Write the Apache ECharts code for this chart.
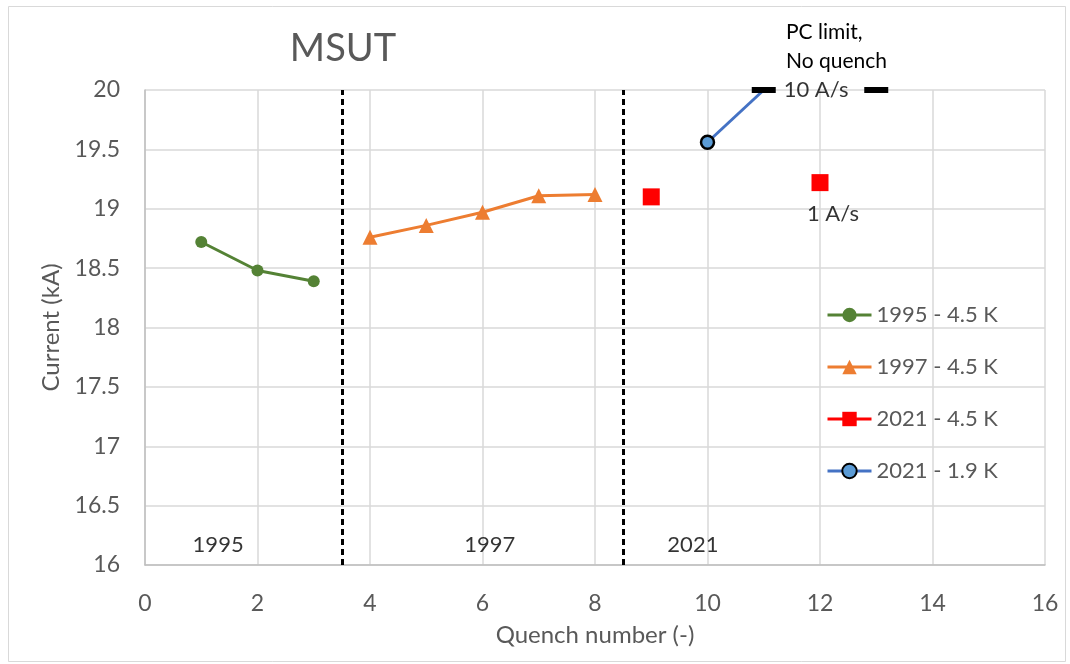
<!DOCTYPE html>
<html>
<head>
<meta charset="utf-8">
<title>MSUT</title>
<script src="https://cdn.jsdelivr.net/npm/echarts@6/dist/echarts.min.js"></script>
<style>
  html, body { margin: 0; padding: 0; background: #fff; }
  #chart { width: 1070px; height: 664px; }
</style>
</head>
<body>
<div id="chart"></div>
<script>
// quench data (x = quench number, y = current in kA)
const q1995X = [1, 2, 3]
const q1995Y = [18.72, 18.48, 18.39]
const q1997X = [4, 5, 6, 7, 8]
const q1997Y = [18.76, 18.86, 18.97, 19.11, 19.12]
const q2021hX = [9, 12]
const q2021hY = [19.1, 19.22]
const q2021lX = [10, 11]
const q2021lY = [19.56, 20]
// PC limit marks
const pcX = [11, 13]
const pcY = [20, 20]
// campaign separators
const sepX = [3.5, 8.5]
// text annotations placed in data coordinates
const noteX = [1.3, 6.13, 9.74, 12.23, 11.93]
const noteY = [16.17, 16.17, 16.17, 18.96, 20]
const noteText = ['1995', '1997', '2021', '1 A/s', '10 A/s']

const FONT = 'Lato'
const GREY = '#595959'

const zip = (xs, ys) => xs.map((x, i) => [x, ys[i]])

const chart = echarts.init(document.getElementById('chart'))

const option = {
  animation: false,
  backgroundColor: '#fff',
  textStyle: { fontFamily: FONT },
  title: {
    text: 'MSUT',
    left: 338,
    top: 25,
    textAlign: 'center',
    textStyle: { fontFamily: FONT, fontSize: 38, fontWeight: 'normal', color: GREY }
  },
  graphic: [
    {
      type: 'rect',
      left: 6,
      top: 4,
      shape: { width: 1057, height: 655 },
      style: { fill: 'none', stroke: '#d9d9d9', lineWidth: 1 },
      silent: true
    },
    {
      type: 'text',
      left: 786,
      top: 18,
      style: {
        text: 'PC limit,\nNo quench',
        font: '21px ' + FONT,
        fill: '#000',
        lineHeight: 29
      }
    }
  ],
  grid: { left: 145, right: 25, top: 90, bottom: 99 },
  legend: {
    orient: 'vertical',
    left: 821,
    top: 299,
    itemWidth: 44,
    itemHeight: 18,
    itemGap: 30,
    lineStyle: { width: 3 },
    textStyle: { fontFamily: FONT, fontSize: 22, lineHeight: 22, color: GREY },
    data: ['1995 - 4.5 K', '1997 - 4.5 K', '2021 - 4.5 K', '2021 - 1.9 K']
  },
  xAxis: {
    type: 'value',
    min: 0,
    max: 16,
    interval: 2,
    name: 'Quench number (-)',
    nameLocation: 'middle',
    nameGap: 58,
    nameTextStyle: { fontFamily: FONT, fontSize: 24, color: GREY },
    axisLine: { lineStyle: { color: '#bfbfbf', width: 1.5 } },
    axisTick: { show: false },
    axisLabel: { margin: 27, fontFamily: FONT, fontSize: 23, color: GREY },
    splitLine: { lineStyle: { color: '#d9d9d9', width: 1.5 } }
  },
  yAxis: {
    type: 'value',
    min: 16,
    max: 20,
    interval: 0.5,
    name: 'Current (kA)',
    nameLocation: 'middle',
    nameGap: 76,
    nameTextStyle: { fontFamily: FONT, fontSize: 24, color: GREY },
    axisLine: { show: true, lineStyle: { color: '#bfbfbf', width: 1.5 } },
    axisTick: { show: false },
    axisLabel: { margin: 25, fontFamily: FONT, fontSize: 23, color: GREY },
    splitLine: { lineStyle: { color: '#d9d9d9', width: 1.5 } }
  },
  series: [
    {
      name: '1995 - 4.5 K',
      type: 'line',
      data: zip(q1995X, q1995Y),
      symbol: 'circle',
      symbolSize: 12,
      itemStyle: { color: '#548235' },
      lineStyle: { color: '#548235', width: 3 }
    },
    {
      name: '1997 - 4.5 K',
      type: 'line',
      data: zip(q1997X, q1997Y),
      symbol: 'triangle',
      symbolSize: 15,
      itemStyle: { color: '#ED7D31' },
      lineStyle: { color: '#ED7D31', width: 3 }
    },
    {
      // '-' in the middle breaks the line so only the squares show
      name: '2021 - 4.5 K',
      type: 'line',
      data: [[q2021hX[0], q2021hY[0]], [10.5, '-'], [q2021hX[1], q2021hY[1]]],
      symbol: 'rect',
      symbolSize: 17,
      itemStyle: { color: '#FF0000' },
      lineStyle: { color: '#FF0000', width: 3 }
    },
    {
      name: '2021 - 1.9 K',
      type: 'line',
      clip: false,
      data: [
        { value: [q2021lX[0], q2021lY[0]] },
        { value: [q2021lX[1], q2021lY[1]], symbol: 'none' }
      ],
      symbol: 'circle',
      symbolSize: 13,
      itemStyle: { color: '#5B9BD5', borderColor: '#000', borderWidth: 2.5 },
      lineStyle: { color: '#4472C4', width: 3 }
    },
    {
      name: 'PC limit',
      type: 'scatter',
      clip: false,
      data: zip(pcX, pcY),
      symbol: 'rect',
      symbolSize: [24, 6],
      itemStyle: { color: '#000', opacity: 1 },
      z: 10
    },
    {
      name: 'notes',
      type: 'scatter',
      clip: false,
      silent: true,
      symbolSize: 1,
      itemStyle: { color: 'rgba(0,0,0,0)' },
      data: noteX.map((x, i) => ({ value: [x, noteY[i]], name: noteText[i] })),
      label: {
        show: true,
        position: 'inside',
        formatter: p => p.name,
        fontFamily: FONT,
        fontSize: 22,
        color: '#000'
      },
      markLine: {
        silent: true,
        symbol: 'none',
        label: { show: false },
        lineStyle: { color: '#000', width: 3, type: [6, 4] },
        data: sepX.map(x => ({ xAxis: x }))
      }
    }
  ]
}

chart.setOption(option)
</script>
</body>
</html>
